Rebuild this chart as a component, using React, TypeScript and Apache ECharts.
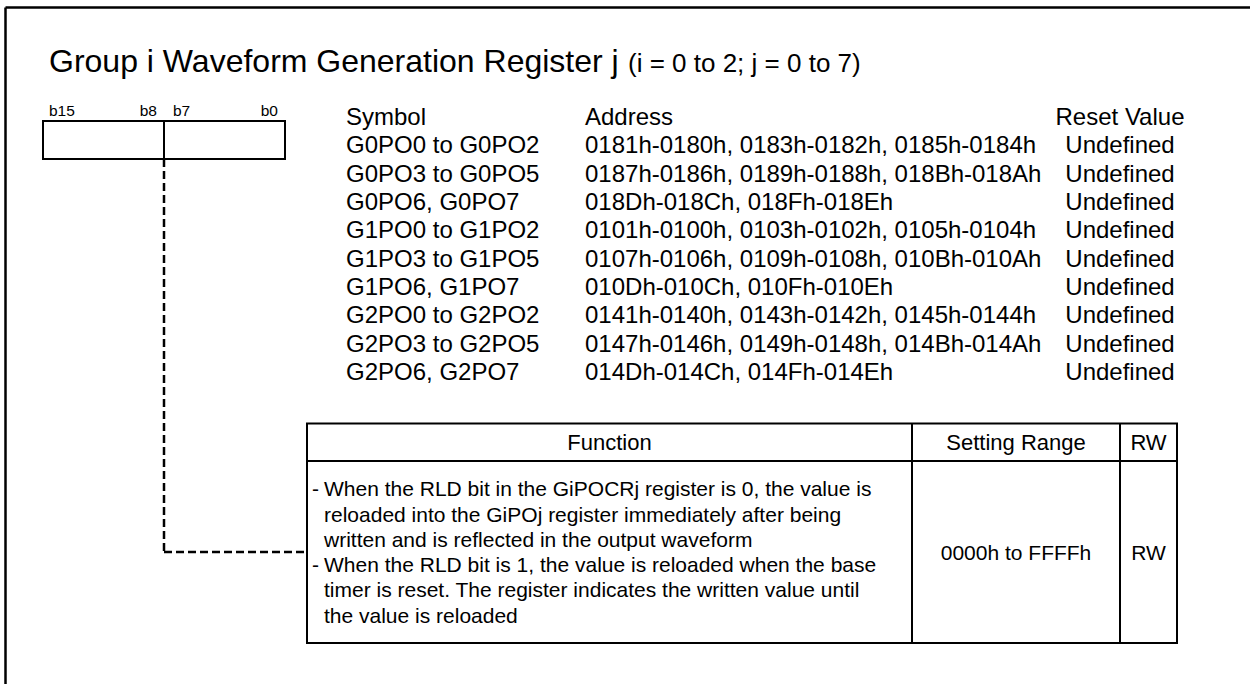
import React, { useEffect, useRef } from "react";
import * as echarts from "echarts";

const titleMain = "Group i Waveform Generation Register j";
const titleSuffix = "(i = 0 to 2; j = 0 to 7)";
const bitLabels = ["b15", "b8", "b7", "b0"];
const tableHeaders = ["Symbol", "Address", "Reset Value"];
const symbols = [
  "G0PO0 to G0PO2",
  "G0PO3 to G0PO5",
  "G0PO6, G0PO7",
  "G1PO0 to G1PO2",
  "G1PO3 to G1PO5",
  "G1PO6, G1PO7",
  "G2PO0 to G2PO2",
  "G2PO3 to G2PO5",
  "G2PO6, G2PO7",
];
const addresses = [
  "0181h-0180h, 0183h-0182h, 0185h-0184h",
  "0187h-0186h, 0189h-0188h, 018Bh-018Ah",
  "018Dh-018Ch, 018Fh-018Eh",
  "0101h-0100h, 0103h-0102h, 0105h-0104h",
  "0107h-0106h, 0109h-0108h, 010Bh-010Ah",
  "010Dh-010Ch, 010Fh-010Eh",
  "0141h-0140h, 0143h-0142h, 0145h-0144h",
  "0147h-0146h, 0149h-0148h, 014Bh-014Ah",
  "014Dh-014Ch, 014Fh-014Eh",
];
const resetValues = [
  "Undefined",
  "Undefined",
  "Undefined",
  "Undefined",
  "Undefined",
  "Undefined",
  "Undefined",
  "Undefined",
  "Undefined",
];
const functionHeaders = ["Function", "Setting Range", "RW"];
const functionLines = [
  { bullet: true, text: "When the RLD bit in the GiPOCRj register is 0, the value is" },
  { bullet: false, text: "reloaded into the GiPOj register immediately after being" },
  { bullet: false, text: "written and is reflected in the output waveform" },
  { bullet: true, text: "When the RLD bit is 1, the value is reloaded when the base" },
  { bullet: false, text: "timer is reset. The register indicates the written value until" },
  { bullet: false, text: "the value is reloaded" },
];
const settingRange = "0000h to FFFFh";
const rwValue = "RW";

const FONT = "'Liberation Sans', Arial, Helvetica, sans-serif";

function txt(text: string, x: number, y: number, size: number, align = "left") {
  return {
    type: "text",
    x,
    y,
    silent: true,
    style: {
      text,
      fontSize: size,
      fontFamily: FONT,
      fill: "#000",
      textAlign: align,
      textVerticalAlign: "middle",
      align,
      verticalAlign: "middle",
    },
  };
}

function ln(x1: number, y1: number, x2: number, y2: number, w = 2, dash?: number[]) {
  return {
    type: "line",
    silent: true,
    shape: { x1, y1, x2, y2 },
    style: { stroke: "#000", lineWidth: w, lineDash: dash },
  };
}

function rect(x: number, y: number, width: number, height: number, w = 2) {
  return {
    type: "rect",
    silent: true,
    shape: { x, y, width, height },
    style: { fill: "#fff", stroke: "#000", lineWidth: w },
  };
}

export default function App() {
  const ref = useRef<HTMLDivElement>(null);
  useEffect(() => {
    if (!ref.current) return;
    const chart = echarts.init(ref.current, undefined, { renderer: "svg" });
    const els: any[] = [];

    // outer frame (only top and left visible)
    els.push(ln(5.5, 7.5, 1260, 7.5, 2.5));
    els.push(ln(5.5, 7.5, 5.5, 700, 2.5));

    // title
    els.push(txt(titleMain, 49, 61, 32));
    els.push(txt(titleSuffix, 628, 63, 26));

    // register box
    const bx = 43, by = 121, bw = 242, bh = 38, mid = 164;
    els.push(rect(bx, by, bw, bh, 2));
    els.push(ln(mid, by, mid, by + bh, 2));
    els.push(txt(bitLabels[0], bx + 6, 110, 15.5, "left"));
    els.push(txt(bitLabels[1], mid - 7, 110, 15.5, "right"));
    els.push(txt(bitLabels[2], mid + 9, 110, 15.5, "left"));
    els.push(txt(bitLabels[3], bx + bw - 7, 110, 15.5, "right"));

    // symbol table
    const rowY0 = 116.5, rowH = 28.33;
    els.push(txt(tableHeaders[0], 346, rowY0, 24));
    els.push(txt(tableHeaders[1], 585, rowY0, 24));
    els.push(txt(tableHeaders[2], 1120, rowY0, 24, "center"));
    symbols.forEach((s, i) => {
      const y = rowY0 + rowH * (i + 1);
      els.push(txt(s, 346, y, 24));
      els.push(txt(addresses[i], 585, y, 24));
      els.push(txt(resetValues[i], 1120, y, 24, "center"));
    });

    // dashed connector
    const connY = 552;
    const tl = 307;
    els.push(ln(mid, by + bh, mid, connY, 2.5, [8, 4]));
    els.push(ln(mid, connY, tl, connY, 2.5, [8, 4]));

    // function table
    const tt = 423.5, th = 461, tb = 643, c1 = 912, c2 = 1120, tr = 1177;
    els.push(rect(tl, tt, tr - tl, tb - tt, 2));
    els.push(ln(tl, th, tr, th, 2));
    els.push(ln(c1, tt, c1, tb, 2));
    els.push(ln(c2, tt, c2, tb, 2));
    const hy = (tt + th) / 2;
    els.push(txt(functionHeaders[0], (tl + c1) / 2, hy, 22, "center"));
    els.push(txt(functionHeaders[1], (c1 + c2) / 2, hy, 22, "center"));
    els.push(txt(functionHeaders[2], (c2 + tr) / 2, hy, 22, "center"));
    const bodyMid = (th + tb) / 2;
    els.push(txt(settingRange, (c1 + c2) / 2, bodyMid, 21, "center"));
    els.push(txt(rwValue, (c2 + tr) / 2, bodyMid, 21, "center"));
    const lh = 25.3;
    const ly0 = bodyMid - lh * (functionLines.length - 1) / 2;
    functionLines.forEach((l, i) => {
      const y = ly0 + lh * i;
      if (l.bullet) {
        els.push(txt("-", 312, y, 21));
      }
      els.push(txt(l.text, 324, y, 21));
    });

    chart.setOption({
      animation: false,
      backgroundColor: "#fff",
      graphic: { elements: els },
    });
    return () => chart.dispose();
  }, []);
  return (
    <div
      ref={ref}
      style={{ position: "fixed", left: 0, top: 0, width: 1250, height: 684, background: "#fff" }}
    />
  );
}
